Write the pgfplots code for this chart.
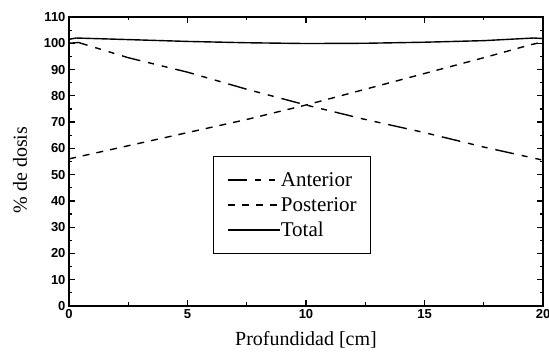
\documentclass[border=0pt]{standalone}
\usepackage{fontspec}
\setmainfont{Liberation Serif}
\newfontfamily\tickfont{Liberation Sans}
\usepackage{pgfplots}
\pgfplotsset{compat=1.18}
\begin{document}
\begin{tikzpicture}
\begin{axis}[
  scale only axis,
  width=474pt, height=289pt,
  xmin=0, xmax=20, ymin=0, ymax=110,
  xtick={0,5,10,15,20},
  ytick={0,10,...,110},
  minor x tick num=1,
  minor y tick num=1,
  major tick length=6pt,
  minor tick length=3.5pt,
  tick align=inside,
  tick style={black, line width=1.2pt},
  axis line style={line width=1.4pt},
  /pgf/number format/assume math mode=true,
  ticklabel style={font=\fontsize{13}{13}\selectfont\tickfont\bfseries},
  xlabel={Profundidad [cm]},
  ylabel={\% de dosis},
  label style={font=\fontsize{20}{22}\selectfont},
  xlabel style={at={(rel axis cs:0.5,0)}, anchor=base, yshift=-40pt, inner sep=0pt},
  ylabel style={at={(rel axis cs:-0.1034,0.47)}, anchor=center, inner sep=0pt},
  legend style={
    at={(rel axis cs:0.3038,0.519)}, anchor=north west,
    font=\fontsize{21}{22}\selectfont,
    draw=black, line width=0.9pt,
    inner xsep=14pt, inner ysep=11pt,
    nodes={inner sep=0pt, minimum height=25pt},
    /tikz/column 2/.style={column sep=6pt},
  },
  legend cell align=left,
  legend image code/.code={\draw[#1] (0pt,0pt) -- (52pt,0pt);},
]
\addplot[black, line width=1.4pt, dash pattern=on 19pt off 8pt on 6pt off 8pt on 6pt off 8pt] coordinates {
  (0,100) (0.4,100.3) (2.5,94.5) (5,89) (7.5,82.5) (10,76.5) (12.5,71) (15,66) (17.5,60.5) (20,55.5)
};
\addlegendentry{Anterior}
\addplot[black, line width=1.4pt, dash pattern=on 7pt off 7pt] coordinates {
  (0,56) (2.5,61) (5,66) (7.5,71) (10,76.5) (12.5,82.5) (15,88.5) (17.5,94.5) (19.5,99.5) (20,100.5)
};
\addlegendentry{Posterior}
\addplot[black, line width=1.4pt] coordinates {
  (0,101.5) (0.3,102) (2.5,101.4) (5,100.7) (7.5,100.2) (10,99.9) (12.5,100) (15,100.4) (17.5,101) (19.6,102) (20,101.8)
};
\addlegendentry{Total}
\end{axis}
\pgfresetboundingbox
\path[use as bounding box] (current axis.south west) ++(-69pt,-47pt) rectangle ++(549pt,353pt);
\end{tikzpicture}
\end{document}
